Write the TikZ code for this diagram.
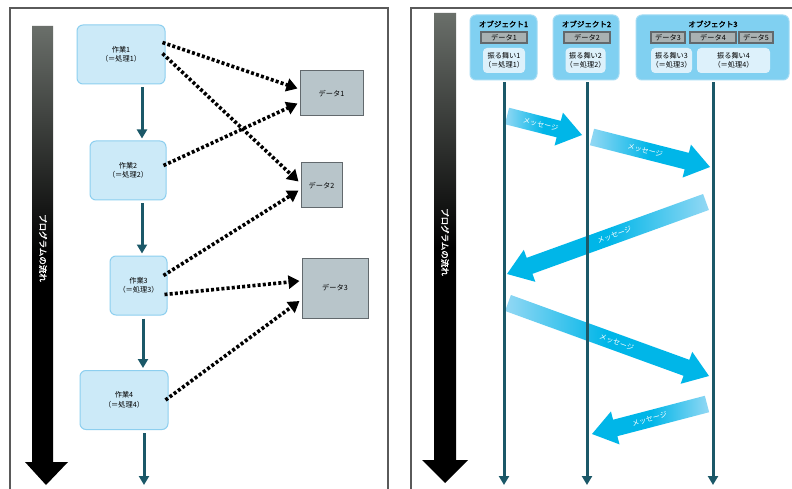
\documentclass[tikz,border=0pt]{standalone}
\usepackage{fontspec}
\setmainfont{Noto Sans CJK JP}[AutoFakeBold=2]
\usetikzlibrary{arrows.meta, calc}

\definecolor{taskfill}{HTML}{CCEAF8}
\definecolor{taskline}{HTML}{8DCFEF}
\definecolor{datafill}{HTML}{B8C5CA}
\definecolor{dataline}{HTML}{62696D}
\definecolor{flowline}{HTML}{1B5868}
\definecolor{objfill}{HTML}{80D0F1}
\definecolor{objline}{HTML}{A4DCF4}
\definecolor{behfill}{HTML}{DDF1FB}
\definecolor{attrfill}{HTML}{A9B1B2}
\definecolor{msgcyan}{HTML}{00B6E8}
\definecolor{msglight}{HTML}{93D8F4}
\definecolor{framegray}{HTML}{5A5A5A}
\definecolor{flowtop}{HTML}{6A6F6A}

\tikzset{
    task/.style = {draw = taskline, fill = taskfill, line width = 1pt,
        rounded corners = 6pt, align = center, inner sep = 0pt,
        font = \fontsize{7.2}{9.5}\selectfont},
    datum/.style = {draw = dataline, fill = datafill, line width = 1pt,
        inner sep = 0pt, font = \fontsize{7.2}{9}\selectfont},
    flow/.style = {draw = flowline, line width = 3pt,
        -{Triangle[length = 9pt, width = 10pt]}},
    access/.style = {line width = 3.6pt, dash pattern = on 3pt off 2.2pt,
        -{Triangle[length = 11pt, width = 13pt]}},
    obj/.style = {draw = objline, fill = objfill, line width = 1pt,
        rounded corners = 6pt, inner sep = 0pt, minimum height = 65pt},
    objtitle/.style = {inner sep = 0pt, font = \fontsize{7.5}{9}\selectfont\bfseries},
    attr/.style = {draw = dataline, fill = attrfill, line width = 1.2pt,
        inner sep = 0pt, minimum height = 11pt, font = \fontsize{7.2}{9}\selectfont},
    beh/.style = {fill = behfill, rounded corners = 4pt, align = center,
        inner sep = 0pt, minimum height = 25pt, font = \fontsize{7.2}{9}\selectfont},
    lifeline/.style = {draw = flowline, line width = 3pt,
        -{Triangle[length = 9pt, width = 10pt]}},
    msglabel/.style = {text = white, inner sep = 0pt, font = \fontsize{7.2}{9}\selectfont},
    progtext/.style = {text = white, rotate = -90, inner sep = 0pt,
        font = \fontsize{8.5}{10}\selectfont\bfseries},
    frame/.style = {draw = framegray, line width = 1.2pt}
}

\begin{document}
\begin{tikzpicture}[x = 1pt, y = -1pt]
    \useasboundingbox [fill = white] (0,0) rectangle (792,489);

    \draw [frame] (10,495) -- (10,8) -- (388,8) -- (388,495);
    \draw [frame] (411,495) -- (411,8) -- (800,8);

    \shade [top color = flowtop, bottom color = black, middle color = black]
        (32,26) -- (53,26) -- (53,462) -- (68,462) -- (46,485)
        -- (25,462) -- (32,462) -- cycle;
    \draw (43,248) node(pf1) [progtext] {プログラムの流れ};

    \draw (121,54.5) node(w1) [task, minimum width = 88pt, minimum height = 59pt]
        {作業1\\（＝処理1）};
    \draw (128,170.5) node(w2) [task, minimum width = 76pt, minimum height = 59pt]
        {作業2\\（＝処理2）};
    \draw (138.5,285.5) node(w3) [task, minimum width = 57pt, minimum height = 59pt]
        {作業3\\（＝処理3）};
    \draw (124,400) node(w4) [task, minimum width = 88pt, minimum height = 59pt]
        {作業4\\（＝処理4）};

    \draw (331.5,93.5) node(d1) [datum, minimum width = 63pt, minimum height = 45pt] {データ1};
    \draw (321.5,185.5) node(d2) [datum, minimum width = 41pt, minimum height = 45pt] {データ2};
    \draw (335,288) node(d3) [datum, minimum width = 66pt, minimum height = 60pt] {データ3};

    \coordinate (fl) at (142,0);
    \coordinate (fend) at (144,485);
    \draw [flow, shorten <= 3pt, shorten >= 2pt] (w1.south -| fl) -- (w2.north -| fl);
    \draw [flow, shorten <= 3pt, shorten >= 2pt] (w2.south -| fl) -- (w3.north -| fl);
    \draw [flow, shorten <= 3pt, shorten >= 2pt] ([xshift = 1pt]w3.south -| fl) -- ([xshift = 1pt]w4.north -| fl);
    \draw [flow, shorten <= 3pt] (w4.south -| fend) -- (fend);

    \draw [access] ([xshift = -3pt, yshift = 12pt]w1.east) -- ([xshift = -2pt, yshift = 5pt]d1.west);
    \draw [access] ([xshift = -3pt, yshift = 1pt]w1.east) -- ([xshift = -2pt, yshift = 4pt]d2.west);
    \draw [access] ([xshift = -3pt, yshift = 5pt]w2.east) -- ([xshift = -2pt, yshift = -10pt]d1.west);
    \draw [access] ([xshift = -4pt, yshift = 10pt]w3.east) -- ([xshift = -2pt, yshift = -5pt]d2.west);
    \draw [access] ([xshift = -3pt, yshift = -9pt]w3.east) -- ([xshift = -2pt, yshift = 7pt]d3.west);
    \draw [access] ([xshift = -3pt, yshift = 0pt]w4.east) -- ([xshift = -2pt, yshift = -13pt]d3.west);

    \shade [top color = flowtop, bottom color = black, middle color = black]
        (434,13) -- (456,13) -- (456,460) -- (468,460) -- (445,483)
        -- (422,460) -- (434,460) -- cycle;
    \draw (445,242) node(pf2) [progtext] {プログラムの流れ};

    \draw (503.5,47.5) node(o1) [obj, minimum width = 67pt] {};
    \draw (503.5,24) node(o1t) [objtitle] {オブジェクト1};
    \draw (504,37.5) node(o1d) [attr, minimum width = 46pt] {データ1};
    \draw (504,60.5) node(o1b) [beh, minimum width = 42pt] {振る舞い1\\（＝処理1）};

    \draw (586,47.5) node(o2) [obj, minimum width = 66pt] {};
    \draw (586.5,24) node(o2t) [objtitle] {オブジェクト2};
    \draw (587,37.5) node(o2d) [attr, minimum width = 46pt] {データ2};
    \draw (585.5,60.5) node(o2b) [beh, minimum width = 39pt] {振る舞い2\\（＝処理2）};

    \draw (712.5,47.5) node(o3) [obj, minimum width = 153pt] {};
    \draw (713,24) node(o3t) [objtitle] {オブジェクト3};
    \draw (668,37.5) node(o3d3) [attr, minimum width = 34pt] {データ3};
    \draw (713,37.5) node(o3d4) [attr, minimum width = 46pt] {データ4};
    \draw (756,37.5) node(o3d5) [attr, minimum width = 34pt] {データ5};
    \draw (671.5,60.5) node(o3b3) [beh, minimum width = 41pt] {振る舞い3\\（＝処理3）};
    \draw (733.5,60.5) node(o3b4) [beh, minimum width = 73pt] {振る舞い4\\（＝処理4）};

    \coordinate (m1a) at (507,116);
    \coordinate (m1b) at (582,135);
    \coordinate (m2a) at (592,137);
    \coordinate (m2b) at (710,167);
    \coordinate (m3a) at (706,202);
    \coordinate (m3b) at (507,274);
    \coordinate (m4a) at (508,303);
    \coordinate (m4b) at (709,376);
    \coordinate (m5a) at (707,404);
    \coordinate (m5b) at (592,434);

    \foreach \a/\b/\lc/\rc/\p in {m1a/m1b/msglight/msgcyan/0.45, m2a/m2b/msglight/msgcyan/0.45,
        m3a/m3b/msgcyan/msglight/0.46, m4a/m4b/msglight/msgcyan/0.54, m5a/m5b/msgcyan/msglight/0.5} {
        \coordinate (hb) at ($(\b)!24pt!(\a)$);
        \shade [left color = \lc, right color = \rc, middle color = msgcyan]
            ($(\a)!8.5pt!90:(\b)$) -- ($(hb)!8.5pt!-90:(\a)$) -- ($(hb)!17pt!-90:(\a)$)
            -- (\b) -- ($(hb)!17pt!90:(\a)$) -- ($(hb)!8.5pt!90:(\a)$)
            -- ($(\a)!8.5pt!-90:(\b)$) -- cycle;
        \path (\a) -- (\b) node [pos = \p, sloped, msglabel] {メッセージ};
    }

    \coordinate (l1) at (504,485);
    \coordinate (l2) at (587,485);
    \coordinate (l3) at (713,485);
    \draw [lifeline, shorten <= 2pt] (o1.south -| l1) -- (l1);
    \draw [lifeline, shorten <= 2pt] (o2.south -| l2) -- (l2);
    \draw [lifeline, shorten <= 2pt] (o3.south -| l3) -- (l3);
\end{tikzpicture}
\end{document}
